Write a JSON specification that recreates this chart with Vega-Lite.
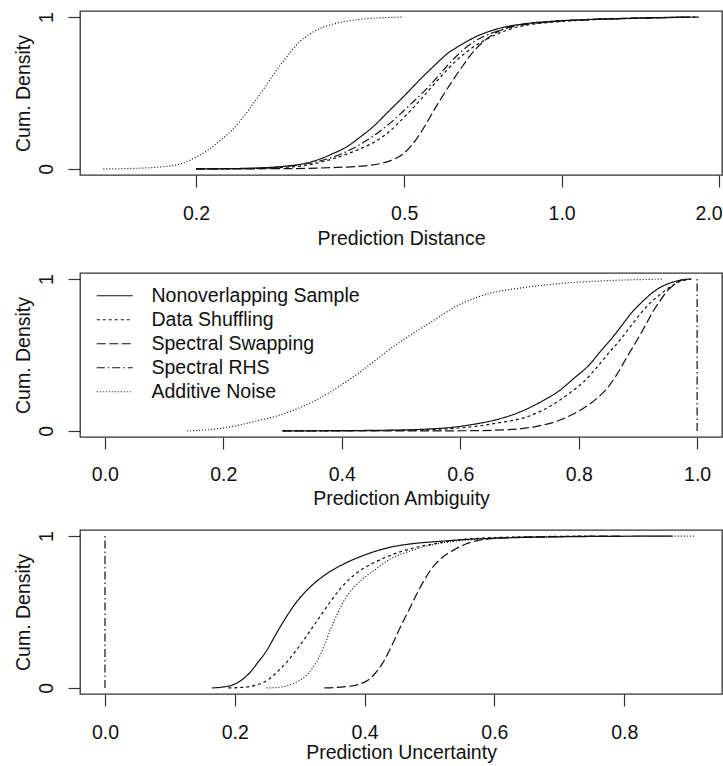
{
"$schema": "https://vega.github.io/schema/vega-lite/v6.json",
"background": "white",
"padding": {"left": 12, "top": 10, "right": 0, "bottom": 0},
"config": {
  "view": {"stroke": "#333", "strokeWidth": 1.3},
  "axis": {"domain": false, "grid": false, "tickSize": 12, "tickColor": "#333", "tickWidth": 1.2,
    "labelFont": "Liberation Sans", "labelFontSize": 19.5, "labelColor": "#111",
    "titleFont": "Liberation Sans", "titleFontSize": 19.5, "titleFontWeight": "normal", "titleColor": "#111"},
  "line": {"strokeWidth": 1.2, "color": "#111"}
},
"datasets": {
"d1": [
{"s":"Nonoverlapping Sample","x":0.2,"y":0},{"s":"Nonoverlapping Sample","x":0.25,"y":0.004},{"s":"Nonoverlapping Sample","x":0.277,"y":0.01},{"s":"Nonoverlapping Sample","x":0.30,"y":0.02},{"s":"Nonoverlapping Sample","x":0.316,"y":0.03},{"s":"Nonoverlapping Sample","x":0.345,"y":0.065},{"s":"Nonoverlapping Sample","x":0.365,"y":0.1},{"s":"Nonoverlapping Sample","x":0.39,"y":0.15},{"s":"Nonoverlapping Sample","x":0.412,"y":0.21},{"s":"Nonoverlapping Sample","x":0.44,"y":0.29},{"s":"Nonoverlapping Sample","x":0.464,"y":0.37},{"s":"Nonoverlapping Sample","x":0.49,"y":0.45},{"s":"Nonoverlapping Sample","x":0.513,"y":0.52},{"s":"Nonoverlapping Sample","x":0.54,"y":0.60},{"s":"Nonoverlapping Sample","x":0.561,"y":0.655},{"s":"Nonoverlapping Sample","x":0.585,"y":0.715},{"s":"Nonoverlapping Sample","x":0.605,"y":0.76},{"s":"Nonoverlapping Sample","x":0.63,"y":0.80},{"s":"Nonoverlapping Sample","x":0.661,"y":0.842},{"s":"Nonoverlapping Sample","x":0.69,"y":0.875},{"s":"Nonoverlapping Sample","x":0.722,"y":0.902},{"s":"Nonoverlapping Sample","x":0.775,"y":0.933},{"s":"Nonoverlapping Sample","x":0.85,"y":0.956},{"s":"Nonoverlapping Sample","x":0.95,"y":0.971},{"s":"Nonoverlapping Sample","x":1.1,"y":0.983},{"s":"Nonoverlapping Sample","x":1.34,"y":0.992},{"s":"Nonoverlapping Sample","x":1.6,"y":0.998},{"s":"Nonoverlapping Sample","x":1.75,"y":1.0},
{"s":"Data Shuffling","x":0.2,"y":0},{"s":"Data Shuffling","x":0.26,"y":0.003},{"s":"Data Shuffling","x":0.30,"y":0.012},{"s":"Data Shuffling","x":0.32,"y":0.02},{"s":"Data Shuffling","x":0.36,"y":0.06},{"s":"Data Shuffling","x":0.39,"y":0.1},{"s":"Data Shuffling","x":0.417,"y":0.14},{"s":"Data Shuffling","x":0.445,"y":0.19},{"s":"Data Shuffling","x":0.47,"y":0.25},{"s":"Data Shuffling","x":0.49,"y":0.31},{"s":"Data Shuffling","x":0.513,"y":0.38},{"s":"Data Shuffling","x":0.537,"y":0.455},{"s":"Data Shuffling","x":0.561,"y":0.53},{"s":"Data Shuffling","x":0.583,"y":0.595},{"s":"Data Shuffling","x":0.605,"y":0.655},{"s":"Data Shuffling","x":0.632,"y":0.72},{"s":"Data Shuffling","x":0.661,"y":0.775},{"s":"Data Shuffling","x":0.69,"y":0.82},{"s":"Data Shuffling","x":0.722,"y":0.858},{"s":"Data Shuffling","x":0.755,"y":0.89},{"s":"Data Shuffling","x":0.788,"y":0.915},{"s":"Data Shuffling","x":0.85,"y":0.945},{"s":"Data Shuffling","x":0.95,"y":0.965},{"s":"Data Shuffling","x":1.1,"y":0.98},{"s":"Data Shuffling","x":1.34,"y":0.99},{"s":"Data Shuffling","x":1.6,"y":0.997},{"s":"Data Shuffling","x":1.8,"y":1.0},
{"s":"Spectral RHS","x":0.2,"y":0},{"s":"Spectral RHS","x":0.26,"y":0.004},{"s":"Spectral RHS","x":0.30,"y":0.018},{"s":"Spectral RHS","x":0.32,"y":0.03},{"s":"Spectral RHS","x":0.36,"y":0.07},{"s":"Spectral RHS","x":0.399,"y":0.135},{"s":"Spectral RHS","x":0.425,"y":0.19},{"s":"Spectral RHS","x":0.45,"y":0.25},{"s":"Spectral RHS","x":0.475,"y":0.315},{"s":"Spectral RHS","x":0.498,"y":0.38},{"s":"Spectral RHS","x":0.525,"y":0.455},{"s":"Spectral RHS","x":0.553,"y":0.53},{"s":"Spectral RHS","x":0.575,"y":0.595},{"s":"Spectral RHS","x":0.594,"y":0.65},{"s":"Spectral RHS","x":0.62,"y":0.72},{"s":"Spectral RHS","x":0.649,"y":0.785},{"s":"Spectral RHS","x":0.68,"y":0.838},{"s":"Spectral RHS","x":0.709,"y":0.872},{"s":"Spectral RHS","x":0.75,"y":0.905},{"s":"Spectral RHS","x":0.788,"y":0.928},{"s":"Spectral RHS","x":0.85,"y":0.95},{"s":"Spectral RHS","x":0.95,"y":0.968},{"s":"Spectral RHS","x":1.1,"y":0.982},{"s":"Spectral RHS","x":1.34,"y":0.991},{"s":"Spectral RHS","x":1.6,"y":0.997},{"s":"Spectral RHS","x":1.8,"y":1.0},
{"s":"Spectral Swapping","x":0.2,"y":0},{"s":"Spectral Swapping","x":0.3,"y":0.002},{"s":"Spectral Swapping","x":0.372,"y":0.01},{"s":"Spectral Swapping","x":0.42,"y":0.02},{"s":"Spectral Swapping","x":0.45,"y":0.035},{"s":"Spectral Swapping","x":0.475,"y":0.06},{"s":"Spectral Swapping","x":0.498,"y":0.1},{"s":"Spectral Swapping","x":0.518,"y":0.16},{"s":"Spectral Swapping","x":0.537,"y":0.235},{"s":"Spectral Swapping","x":0.558,"y":0.33},{"s":"Spectral Swapping","x":0.579,"y":0.425},{"s":"Spectral Swapping","x":0.596,"y":0.495},{"s":"Spectral Swapping","x":0.613,"y":0.56},{"s":"Spectral Swapping","x":0.631,"y":0.625},{"s":"Spectral Swapping","x":0.649,"y":0.685},{"s":"Spectral Swapping","x":0.668,"y":0.745},{"s":"Spectral Swapping","x":0.69,"y":0.80},{"s":"Spectral Swapping","x":0.715,"y":0.85},{"s":"Spectral Swapping","x":0.741,"y":0.888},{"s":"Spectral Swapping","x":0.765,"y":0.913},{"s":"Spectral Swapping","x":0.792,"y":0.933},{"s":"Spectral Swapping","x":0.85,"y":0.955},{"s":"Spectral Swapping","x":0.95,"y":0.97},{"s":"Spectral Swapping","x":1.1,"y":0.982},{"s":"Spectral Swapping","x":1.34,"y":0.991},{"s":"Spectral Swapping","x":1.6,"y":0.997},{"s":"Spectral Swapping","x":1.83,"y":1.0},
{"s":"Additive Noise","x":0.133,"y":0},{"s":"Additive Noise","x":0.15,"y":0.003},{"s":"Additive Noise","x":0.163,"y":0.008},{"s":"Additive Noise","x":0.175,"y":0.016},{"s":"Additive Noise","x":0.186,"y":0.032},{"s":"Additive Noise","x":0.195,"y":0.058},{"s":"Additive Noise","x":0.203,"y":0.09},{"s":"Additive Noise","x":0.212,"y":0.13},{"s":"Additive Noise","x":0.222,"y":0.185},{"s":"Additive Noise","x":0.235,"y":0.26},{"s":"Additive Noise","x":0.244,"y":0.325},{"s":"Additive Noise","x":0.253,"y":0.395},{"s":"Additive Noise","x":0.263,"y":0.475},{"s":"Additive Noise","x":0.273,"y":0.555},{"s":"Additive Noise","x":0.283,"y":0.635},{"s":"Additive Noise","x":0.293,"y":0.705},{"s":"Additive Noise","x":0.304,"y":0.775},{"s":"Additive Noise","x":0.316,"y":0.84},{"s":"Additive Noise","x":0.33,"y":0.888},{"s":"Additive Noise","x":0.345,"y":0.925},{"s":"Additive Noise","x":0.365,"y":0.953},{"s":"Additive Noise","x":0.385,"y":0.971},{"s":"Additive Noise","x":0.412,"y":0.985},{"s":"Additive Noise","x":0.45,"y":0.995},{"s":"Additive Noise","x":0.498,"y":1.0}
],
"d2": [
{"s":"Nonoverlapping Sample","x":0.30,"y":0},{"s":"Nonoverlapping Sample","x":0.40,"y":0.002},{"s":"Nonoverlapping Sample","x":0.48,"y":0.005},{"s":"Nonoverlapping Sample","x":0.544,"y":0.012},{"s":"Nonoverlapping Sample","x":0.59,"y":0.025},{"s":"Nonoverlapping Sample","x":0.617,"y":0.04},{"s":"Nonoverlapping Sample","x":0.66,"y":0.073},{"s":"Nonoverlapping Sample","x":0.701,"y":0.125},{"s":"Nonoverlapping Sample","x":0.74,"y":0.2},{"s":"Nonoverlapping Sample","x":0.769,"y":0.27},{"s":"Nonoverlapping Sample","x":0.79,"y":0.34},{"s":"Nonoverlapping Sample","x":0.819,"y":0.44},{"s":"Nonoverlapping Sample","x":0.836,"y":0.52},{"s":"Nonoverlapping Sample","x":0.858,"y":0.62},{"s":"Nonoverlapping Sample","x":0.87,"y":0.68},{"s":"Nonoverlapping Sample","x":0.892,"y":0.79},{"s":"Nonoverlapping Sample","x":0.91,"y":0.86},{"s":"Nonoverlapping Sample","x":0.926,"y":0.915},{"s":"Nonoverlapping Sample","x":0.94,"y":0.95},{"s":"Nonoverlapping Sample","x":0.959,"y":0.98},{"s":"Nonoverlapping Sample","x":0.975,"y":0.995},{"s":"Nonoverlapping Sample","x":0.99,"y":1.0},
{"s":"Data Shuffling","x":0.30,"y":0},{"s":"Data Shuffling","x":0.45,"y":0.002},{"s":"Data Shuffling","x":0.55,"y":0.009},{"s":"Data Shuffling","x":0.617,"y":0.026},{"s":"Data Shuffling","x":0.66,"y":0.05},{"s":"Data Shuffling","x":0.718,"y":0.10},{"s":"Data Shuffling","x":0.755,"y":0.17},{"s":"Data Shuffling","x":0.785,"y":0.25},{"s":"Data Shuffling","x":0.81,"y":0.33},{"s":"Data Shuffling","x":0.831,"y":0.42},{"s":"Data Shuffling","x":0.85,"y":0.51},{"s":"Data Shuffling","x":0.87,"y":0.60},{"s":"Data Shuffling","x":0.888,"y":0.69},{"s":"Data Shuffling","x":0.904,"y":0.77},{"s":"Data Shuffling","x":0.92,"y":0.84},{"s":"Data Shuffling","x":0.938,"y":0.90},{"s":"Data Shuffling","x":0.955,"y":0.95},{"s":"Data Shuffling","x":0.966,"y":0.975},{"s":"Data Shuffling","x":0.98,"y":0.993},{"s":"Data Shuffling","x":0.99,"y":1.0},
{"s":"Spectral Swapping","x":0.30,"y":0},{"s":"Spectral Swapping","x":0.6,"y":0.001},{"s":"Spectral Swapping","x":0.68,"y":0.008},{"s":"Spectral Swapping","x":0.729,"y":0.03},{"s":"Spectral Swapping","x":0.76,"y":0.06},{"s":"Spectral Swapping","x":0.785,"y":0.10},{"s":"Spectral Swapping","x":0.81,"y":0.155},{"s":"Spectral Swapping","x":0.831,"y":0.215},{"s":"Spectral Swapping","x":0.85,"y":0.29},{"s":"Spectral Swapping","x":0.865,"y":0.375},{"s":"Spectral Swapping","x":0.882,"y":0.49},{"s":"Spectral Swapping","x":0.899,"y":0.60},{"s":"Spectral Swapping","x":0.912,"y":0.69},{"s":"Spectral Swapping","x":0.926,"y":0.79},{"s":"Spectral Swapping","x":0.938,"y":0.86},{"s":"Spectral Swapping","x":0.949,"y":0.92},{"s":"Spectral Swapping","x":0.96,"y":0.96},{"s":"Spectral Swapping","x":0.971,"y":0.99},{"s":"Spectral Swapping","x":0.985,"y":1.0},
{"s":"Spectral RHS","x":1.0,"y":0},{"s":"Spectral RHS","x":1.0,"y":1.0},
{"s":"Additive Noise","x":0.139,"y":0},{"s":"Additive Noise","x":0.18,"y":0.01},{"s":"Additive Noise","x":0.216,"y":0.03},{"s":"Additive Noise","x":0.25,"y":0.06},{"s":"Additive Noise","x":0.30,"y":0.11},{"s":"Additive Noise","x":0.33,"y":0.155},{"s":"Additive Noise","x":0.358,"y":0.205},{"s":"Additive Noise","x":0.38,"y":0.255},{"s":"Additive Noise","x":0.40,"y":0.305},{"s":"Additive Noise","x":0.43,"y":0.385},{"s":"Additive Noise","x":0.46,"y":0.475},{"s":"Additive Noise","x":0.487,"y":0.555},{"s":"Additive Noise","x":0.515,"y":0.63},{"s":"Additive Noise","x":0.544,"y":0.70},{"s":"Additive Noise","x":0.57,"y":0.765},{"s":"Additive Noise","x":0.595,"y":0.825},{"s":"Additive Noise","x":0.625,"y":0.875},{"s":"Additive Noise","x":0.656,"y":0.912},{"s":"Additive Noise","x":0.70,"y":0.94},{"s":"Additive Noise","x":0.74,"y":0.96},{"s":"Additive Noise","x":0.824,"y":0.985},{"s":"Additive Noise","x":0.943,"y":1.0}
],
"d3": [
{"s":"Nonoverlapping Sample","x":0.165,"y":0},{"s":"Nonoverlapping Sample","x":0.18,"y":0.005},{"s":"Nonoverlapping Sample","x":0.197,"y":0.02},{"s":"Nonoverlapping Sample","x":0.21,"y":0.05},{"s":"Nonoverlapping Sample","x":0.223,"y":0.1},{"s":"Nonoverlapping Sample","x":0.236,"y":0.17},{"s":"Nonoverlapping Sample","x":0.249,"y":0.245},{"s":"Nonoverlapping Sample","x":0.259,"y":0.32},{"s":"Nonoverlapping Sample","x":0.269,"y":0.395},{"s":"Nonoverlapping Sample","x":0.282,"y":0.485},{"s":"Nonoverlapping Sample","x":0.295,"y":0.565},{"s":"Nonoverlapping Sample","x":0.315,"y":0.66},{"s":"Nonoverlapping Sample","x":0.341,"y":0.75},{"s":"Nonoverlapping Sample","x":0.372,"y":0.825},{"s":"Nonoverlapping Sample","x":0.403,"y":0.88},{"s":"Nonoverlapping Sample","x":0.438,"y":0.925},{"s":"Nonoverlapping Sample","x":0.474,"y":0.95},{"s":"Nonoverlapping Sample","x":0.515,"y":0.965},{"s":"Nonoverlapping Sample","x":0.546,"y":0.975},{"s":"Nonoverlapping Sample","x":0.597,"y":0.985},{"s":"Nonoverlapping Sample","x":0.70,"y":0.995},{"s":"Nonoverlapping Sample","x":0.874,"y":1.0},
{"s":"Data Shuffling","x":0.19,"y":0},{"s":"Data Shuffling","x":0.21,"y":0.003},{"s":"Data Shuffling","x":0.234,"y":0.02},{"s":"Data Shuffling","x":0.25,"y":0.05},{"s":"Data Shuffling","x":0.264,"y":0.1},{"s":"Data Shuffling","x":0.28,"y":0.17},{"s":"Data Shuffling","x":0.295,"y":0.25},{"s":"Data Shuffling","x":0.307,"y":0.32},{"s":"Data Shuffling","x":0.32,"y":0.40},{"s":"Data Shuffling","x":0.333,"y":0.48},{"s":"Data Shuffling","x":0.346,"y":0.56},{"s":"Data Shuffling","x":0.36,"y":0.64},{"s":"Data Shuffling","x":0.375,"y":0.71},{"s":"Data Shuffling","x":0.392,"y":0.77},{"s":"Data Shuffling","x":0.41,"y":0.815},{"s":"Data Shuffling","x":0.438,"y":0.87},{"s":"Data Shuffling","x":0.474,"y":0.92},{"s":"Data Shuffling","x":0.515,"y":0.955},{"s":"Data Shuffling","x":0.546,"y":0.975},{"s":"Data Shuffling","x":0.6,"y":0.99},{"s":"Data Shuffling","x":0.75,"y":1.0},
{"s":"Spectral Swapping","x":0.338,"y":0},{"s":"Spectral Swapping","x":0.37,"y":0.008},{"s":"Spectral Swapping","x":0.392,"y":0.025},{"s":"Spectral Swapping","x":0.405,"y":0.05},{"s":"Spectral Swapping","x":0.417,"y":0.1},{"s":"Spectral Swapping","x":0.428,"y":0.165},{"s":"Spectral Swapping","x":0.442,"y":0.28},{"s":"Spectral Swapping","x":0.455,"y":0.40},{"s":"Spectral Swapping","x":0.468,"y":0.51},{"s":"Spectral Swapping","x":0.48,"y":0.615},{"s":"Spectral Swapping","x":0.49,"y":0.695},{"s":"Spectral Swapping","x":0.50,"y":0.765},{"s":"Spectral Swapping","x":0.51,"y":0.82},{"s":"Spectral Swapping","x":0.52,"y":0.86},{"s":"Spectral Swapping","x":0.54,"y":0.915},{"s":"Spectral Swapping","x":0.556,"y":0.948},{"s":"Spectral Swapping","x":0.572,"y":0.968},{"s":"Spectral Swapping","x":0.6,"y":0.984},{"s":"Spectral Swapping","x":0.623,"y":0.99},{"s":"Spectral Swapping","x":0.70,"y":0.997},{"s":"Spectral Swapping","x":0.80,"y":1.0},
{"s":"Spectral RHS","x":0,"y":0},{"s":"Spectral RHS","x":0,"y":1.0},
{"s":"Additive Noise","x":0.249,"y":0},{"s":"Additive Noise","x":0.27,"y":0.005},{"s":"Additive Noise","x":0.285,"y":0.02},{"s":"Additive Noise","x":0.30,"y":0.05},{"s":"Additive Noise","x":0.311,"y":0.085},{"s":"Additive Noise","x":0.321,"y":0.14},{"s":"Additive Noise","x":0.331,"y":0.21},{"s":"Additive Noise","x":0.339,"y":0.29},{"s":"Additive Noise","x":0.346,"y":0.37},{"s":"Additive Noise","x":0.354,"y":0.45},{"s":"Additive Noise","x":0.362,"y":0.525},{"s":"Additive Noise","x":0.372,"y":0.6},{"s":"Additive Noise","x":0.382,"y":0.655},{"s":"Additive Noise","x":0.395,"y":0.71},{"s":"Additive Noise","x":0.415,"y":0.775},{"s":"Additive Noise","x":0.438,"y":0.845},{"s":"Additive Noise","x":0.469,"y":0.90},{"s":"Additive Noise","x":0.497,"y":0.935},{"s":"Additive Noise","x":0.52,"y":0.955},{"s":"Additive Noise","x":0.56,"y":0.975},{"s":"Additive Noise","x":0.62,"y":0.99},{"s":"Additive Noise","x":0.75,"y":0.998},{"s":"Additive Noise","x":0.908,"y":1.0}
]
},
"spacing": 98,
"bounds": "flush",
"resolve": {"scale": {"strokeDash": "independent"}, "legend": {"strokeDash": "independent"}},
"vconcat": [
{
  "width": 642, "height": 164,
  "data": {"name": "d1"},
  "mark": {"type": "line", "interpolate": "monotone"},
  "encoding": {
    "x": {"field": "x", "type": "quantitative",
      "scale": {"type": "log", "domain": [0.12, 2.026], "nice": false, "zero": false},
      "axis": {"values": [0.2, 0.5, 1, 2], "format": ".1f", "labelBaseline": "alphabetic", "labelPadding": 32, "labelFlush": 5, "labelFlushOffset": 3,
        "title": "Prediction Distance", "titleY": 69, "titleBaseline": "alphabetic"}},
    "y": {"field": "y", "type": "quantitative",
      "scale": {"domain": [-0.04, 1.04], "nice": false, "zero": false},
      "axis": {"values": [0, 1], "format": "d", "labelAngle": 270, "labelAlign": "center", "labelBaseline": "alphabetic", "labelPadding": 16,
        "title": "Cum. Density", "titleAngle": 270, "titleX": -51, "titleBaseline": "alphabetic"}},
    "strokeDash": {"field": "s", "type": "nominal",
      "scale": {"domain": ["Nonoverlapping Sample", "Data Shuffling", "Spectral Swapping", "Spectral RHS", "Additive Noise"],
        "range": [[1, 0], [3, 3], [9, 3.5], [8, 3, 1.5, 3], [1, 2]]},
      "legend": null}
  }
},
{
  "spacing": 93,
  "bounds": "flush",
  "resolve": {"scale": {"strokeDash": "independent"}, "legend": {"strokeDash": "independent"}},
  "vconcat": [
  {
    "width": 642, "height": 164,
    "data": {"name": "d2"},
    "mark": {"type": "line", "interpolate": "monotone"},
    "encoding": {
      "x": {"field": "x", "type": "quantitative",
        "scale": {"domain": [-0.042, 1.042], "nice": false, "zero": false},
        "axis": {"values": [0, 0.2, 0.4, 0.6, 0.8, 1.0], "format": ".1f", "labelBaseline": "alphabetic", "labelPadding": 31,
          "title": "Prediction Ambiguity", "titleY": 67, "titleBaseline": "alphabetic"}},
      "y": {"field": "y", "type": "quantitative",
        "scale": {"domain": [-0.04, 1.04], "nice": false, "zero": false},
        "axis": {"values": [0, 1], "format": "d", "labelAngle": 270, "labelAlign": "center", "labelBaseline": "alphabetic", "labelPadding": 16,
          "title": "Cum. Density", "titleAngle": 270, "titleX": -51, "titleBaseline": "alphabetic"}},
      "strokeDash": {"field": "s", "type": "nominal",
        "scale": {"domain": ["Nonoverlapping Sample", "Data Shuffling", "Spectral Swapping", "Spectral RHS", "Additive Noise"],
          "range": [[1, 0], [3, 3], [9, 3.5], [8, 3, 1.5, 3], [1, 2]]},
        "legend": {"orient": "none", "legendX": 25, "legendY": 13, "title": null, "padding": 0,
          "symbolType": "M-3,0H3", "symbolSize": 144, "symbolStrokeWidth": 1.2, "symbolStrokeColor": "#111",
          "labelFont": "Liberation Sans", "labelFontSize": 19.5, "labelColor": "#111", "labelOffset": 27, "labelLimit": 400,
          "rowPadding": 3}}
    }
  },
  {
    "width": 642, "height": 164,
    "data": {"name": "d3"},
    "mark": {"type": "line", "interpolate": "monotone"},
    "encoding": {
      "x": {"field": "x", "type": "quantitative",
        "scale": {"domain": [-0.0385, 0.9507], "nice": false, "zero": false},
        "axis": {"values": [0, 0.2, 0.4, 0.6, 0.8], "format": ".1f", "labelBaseline": "alphabetic", "labelPadding": 32,
          "title": "Prediction Uncertainty", "titleY": 64, "titleBaseline": "alphabetic"}},
      "y": {"field": "y", "type": "quantitative",
        "scale": {"domain": [-0.04, 1.04], "nice": false, "zero": false},
        "axis": {"values": [0, 1], "format": "d", "labelAngle": 270, "labelAlign": "center", "labelBaseline": "alphabetic", "labelPadding": 16,
          "title": "Cum. Density", "titleAngle": 270, "titleX": -51, "titleBaseline": "alphabetic"}},
      "strokeDash": {"field": "s", "type": "nominal",
        "scale": {"domain": ["Nonoverlapping Sample", "Data Shuffling", "Spectral Swapping", "Spectral RHS", "Additive Noise"],
          "range": [[1, 0], [3, 3], [9, 3.5], [8, 3, 1.5, 3], [1, 2]]},
        "legend": null}
    }
  }
  ]
}
]
}
